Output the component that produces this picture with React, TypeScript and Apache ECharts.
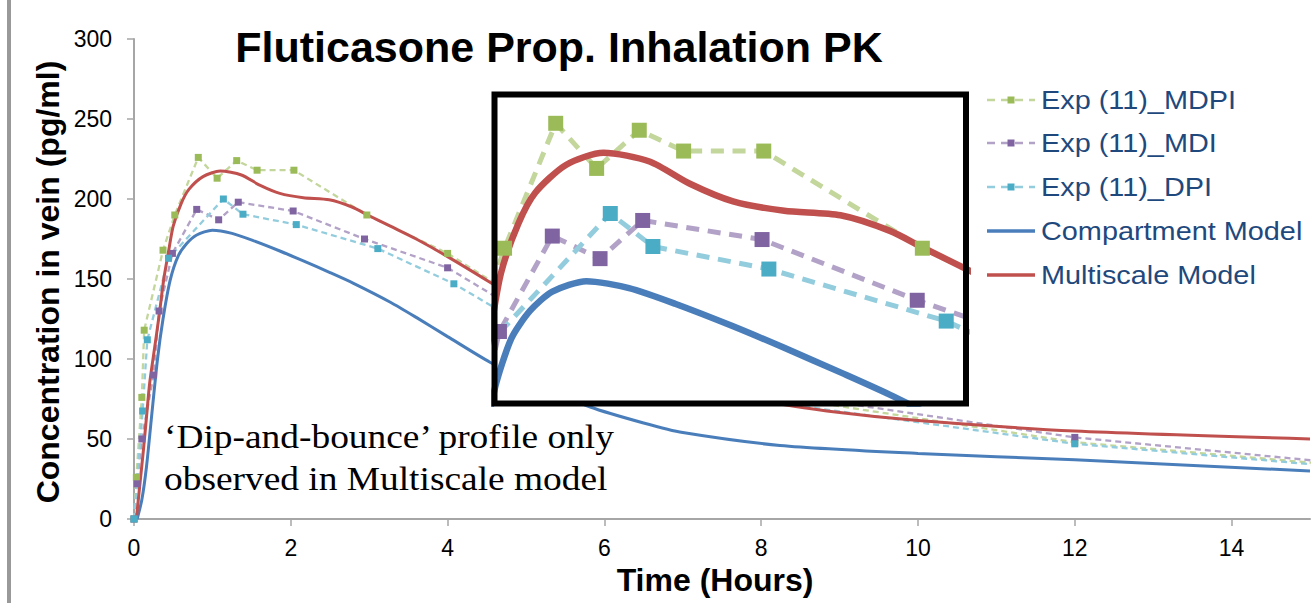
import React, { useEffect, useRef } from "react";
import * as echarts from "echarts";

// ---- Data (time in hours, concentration in pg/ml) ----
const mdpiData: number[][] = [
  [0, 0], [0.03, 26], [0.1, 76], [0.13, 118], [0.37, 168], [0.52, 190], [0.82, 226],
  [1.06, 213], [1.31, 224], [1.57, 218], [2.04, 218], [2.97, 190], [4.0, 166],
  [6, 104], [8, 78], [12, 48], [16, 31],
];
const mdiData: number[][] = [
  [0, 0], [0.04, 22], [0.1, 50], [0.25, 90], [0.32, 130], [0.49, 166], [0.8, 193.5],
  [1.08, 187], [1.33, 198], [2.03, 192.5], [2.94, 175], [4.0, 157],
  [6, 98], [8, 80], [12, 51], [16, 32],
];
const dpiData: number[][] = [
  [0, 0], [0.11, 67.5], [0.17, 112], [0.44, 163], [1.14, 200], [1.39, 190.5],
  [2.07, 184], [3.11, 169], [4.08, 147], [6, 92], [8, 74], [12, 47], [16, 30],
];
const compartmentData: number[][] = [
  [0.04, 0], [0.1, 12], [0.16, 33], [0.22, 62], [0.3, 100], [0.37, 125], [0.46, 149],
  [0.56, 164], [0.67, 172], [0.8, 177.5], [1.0, 180.5], [1.25, 178.5], [1.52, 174],
  [1.86, 167.5], [2.16, 161.3], [2.5, 154], [2.8, 147.3], [3.27, 135.5], [3.6, 126],
  [4.0, 114], [4.54, 98], [5.0, 87], [5.82, 70], [6.5, 60], [7.0, 54], [8.24, 46],
  [10, 41], [12, 37], [15, 30],
];
const multiscaleData: number[][] = [
  [0.03, 0], [0.08, 24], [0.12, 43], [0.16, 64], [0.2, 85], [0.26, 106], [0.32, 127],
  [0.38, 150], [0.44, 167], [0.5, 183], [0.6, 197], [0.7, 206], [0.88, 214],
  [1.1, 217.5], [1.37, 215], [1.61, 208.5], [1.86, 203.5], [2.16, 200.8], [2.49, 199.5],
  [2.78, 195], [2.98, 190], [3.27, 183], [3.6, 175], [4.0, 164], [4.54, 148],
  [5, 134], [6, 107], [7, 87], [8, 74], [9, 66.5], [10, 61.5], [12, 55], [15, 50],
];

const seriesNames = ["Exp (11)_MDPI", "Exp (11)_MDI", "Exp (11)_DPI", "Compartment Model", "Multiscale Model"];
const yTicksInterval = 50;
const xTicksInterval = 2;

const SANS = "'Liberation Sans', Arial, sans-serif";
const SERIF = "'Liberation Serif', 'Times New Roman', serif";

const expStyles = [
  { data: mdpiData, line: "#C3D69B", mark: "#9BBB59" },
  { data: mdiData, line: "#B3A2C7", mark: "#8064A2" },
  { data: dpiData, line: "#93CDDD", mark: "#4BACC6" },
];
const modelStyles = [
  { data: compartmentData, color: "#4A7EBB" },
  { data: multiscaleData, color: "#C0504D" },
];

function buildSeries(inset: boolean) {
  const k = inset ? 2.17 : 1;
  const out: any[] = [];
  expStyles.forEach((s, i) => {
    out.push({
      type: "line",
      name: seriesNames[i] + (inset ? " (zoom)" : ""),
      xAxisIndex: inset ? 1 : 0,
      yAxisIndex: inset ? 1 : 0,
      data: s.data,
      z: inset ? 5 : 2,
      clip: true,
      silent: true,
      symbol: "rect",
      symbolSize: inset ? 15 : 7,
      showSymbol: true,
      showAllSymbol: true,
      lineStyle: { color: s.line, width: 2.3 * k, type: [6 * k, 4 * k] },
      itemStyle: { color: s.mark },
    });
  });
  modelStyles.forEach((s, j) => {
    out.push({
      type: "line",
      name: seriesNames[3 + j] + (inset ? " (zoom)" : ""),
      xAxisIndex: inset ? 1 : 0,
      yAxisIndex: inset ? 1 : 0,
      data: s.data,
      z: inset ? 5 : 2,
      clip: true,
      silent: true,
      smooth: 0.25,
      showSymbol: false,
      symbol: "none",
      lineStyle: { color: s.color, width: 3 * k },
    });
  });
  return out;
}

function legendGraphics() {
  const ys = [100, 143, 187, 231, 275];
  const els: any[] = [];
  ys.forEach((y, i) => {
    if (i < 3) {
      els.push({
        type: "line",
        z: 10,
        shape: { x1: 987, y1: y, x2: 1035, y2: y },
        style: { stroke: expStyles[i].line, lineWidth: 2.5, lineDash: [8, 6] },
      });
      els.push({
        type: "rect",
        z: 11,
        shape: { x: 1007.5, y: y - 3.5, width: 7, height: 7 },
        style: { fill: expStyles[i].mark },
      });
    } else {
      els.push({
        type: "line",
        z: 10,
        shape: { x1: 987, y1: y, x2: 1035, y2: y },
        style: { stroke: modelStyles[i - 3].color, lineWidth: 3.5 },
      });
    }
    els.push({
      type: "text",
      z: 10,
      x: 1041,
      y: y,
      scaleX: 1.11,
      style: {
        text: seriesNames[i],
        fontSize: 26,
        fontFamily: SANS,
        fill: "#1F497D",
        align: "left",
        verticalAlign: "middle",
      },
    });
  });
  return els;
}

export default function App() {
  const ref = useRef<HTMLDivElement>(null);
  useEffect(() => {
    if (!ref.current) return;
    const chart = echarts.init(ref.current, undefined, { renderer: "svg" });
    const axisGray = "#A6A6A6";
    const option: any = {
      animation: false,
      backgroundColor: "#ffffff",
      grid: [
        { left: 134, top: 39, width: 1176, height: 480 },
        { left: 494.5, top: 94.5, width: 471.5, height: 309 },
      ],
      xAxis: [
        {
          type: "value",
          gridIndex: 0,
          min: 0,
          max: 15,
          interval: xTicksInterval,
          axisLine: { show: true, onZero: false, lineStyle: { color: axisGray, width: 2 } },
          axisTick: { show: true, length: 7, lineStyle: { color: axisGray, width: 1.5 } },
          axisLabel: { showMaxLabel: false, fontSize: 23, color: "#000", margin: 17, fontFamily: SANS },
          splitLine: { show: false },
        },
        { type: "value", gridIndex: 1, min: 0.461, max: 3.226, show: false, splitLine: { show: false } },
      ],
      yAxis: [
        {
          type: "value",
          gridIndex: 0,
          min: 0,
          max: 300,
          interval: yTicksInterval,
          axisLine: { show: true, onZero: false, lineStyle: { color: axisGray, width: 2 } },
          axisTick: { show: true, length: 7, lineStyle: { color: axisGray, width: 1.5 } },
          axisLabel: { fontSize: 23, color: "#000", margin: 22, fontFamily: SANS },
          splitLine: { show: false },
        },
        { type: "value", gridIndex: 1, min: 145.25, max: 234.3, show: false, splitLine: { show: false } },
      ],
      series: [...buildSeries(false), ...buildSeries(true)],
      graphic: {
        elements: [
          { type: "rect", z: 1, shape: { x: 7, y: 0, width: 4, height: 603 }, style: { fill: "#999999" } },
          {
            type: "rect",
            z: 3,
            shape: { x: 494.5, y: 94.5, width: 471.5, height: 309 },
            style: { fill: "#ffffff" },
          },
          {
            type: "rect",
            z: 8,
            shape: { x: 494.5, y: 94.5, width: 471.5, height: 309 },
            style: { fill: "rgba(0,0,0,0)", stroke: "#000000", lineWidth: 6 },
          },
          {
            type: "text",
            z: 10,
            x: 559,
            y: 47,
            style: {
              text: "Fluticasone Prop. Inhalation PK",
              fontSize: 43,
              fontWeight: "bold",
              fontFamily: SANS,
              fill: "#000",
              align: "center",
              verticalAlign: "middle",
            },
          },
          {
            type: "text",
            z: 10,
            x: 48,
            y: 282,
            rotation: Math.PI / 2,
            style: {
              text: "Concentration in vein (pg/ml)",
              fontSize: 32,
              fontWeight: "bold",
              fontFamily: SANS,
              fill: "#000",
              align: "center",
              verticalAlign: "middle",
            },
          },
          {
            type: "text",
            z: 10,
            x: 715,
            y: 580,
            style: {
              text: "Time (Hours)",
              fontSize: 32,
              fontWeight: "bold",
              fontFamily: SANS,
              fill: "#000",
              align: "center",
              verticalAlign: "middle",
            },
          },
          {
            type: "text",
            z: 10,
            x: 164,
            y: 437,
            scaleX: 1.1,
            style: {
              text: "\u2018Dip-and-bounce\u2019 profile only",
              fontSize: 34,
              fontFamily: SERIF,
              fill: "#000",
              align: "left",
              verticalAlign: "middle",
            },
          },
          {
            type: "text",
            z: 10,
            x: 164,
            y: 479,
            scaleX: 1.1,
            style: {
              text: "observed in Multiscale model",
              fontSize: 34,
              fontFamily: SERIF,
              fill: "#000",
              align: "left",
              verticalAlign: "middle",
            },
          },
          ...legendGraphics(),
        ],
      },
    };
    chart.setOption(option);
    return () => chart.dispose();
  }, []);
  return (
    <div
      ref={ref}
      style={{ position: "absolute", left: 0, top: 0, width: 1311, height: 603, background: "#fff" }}
    />
  );
}
